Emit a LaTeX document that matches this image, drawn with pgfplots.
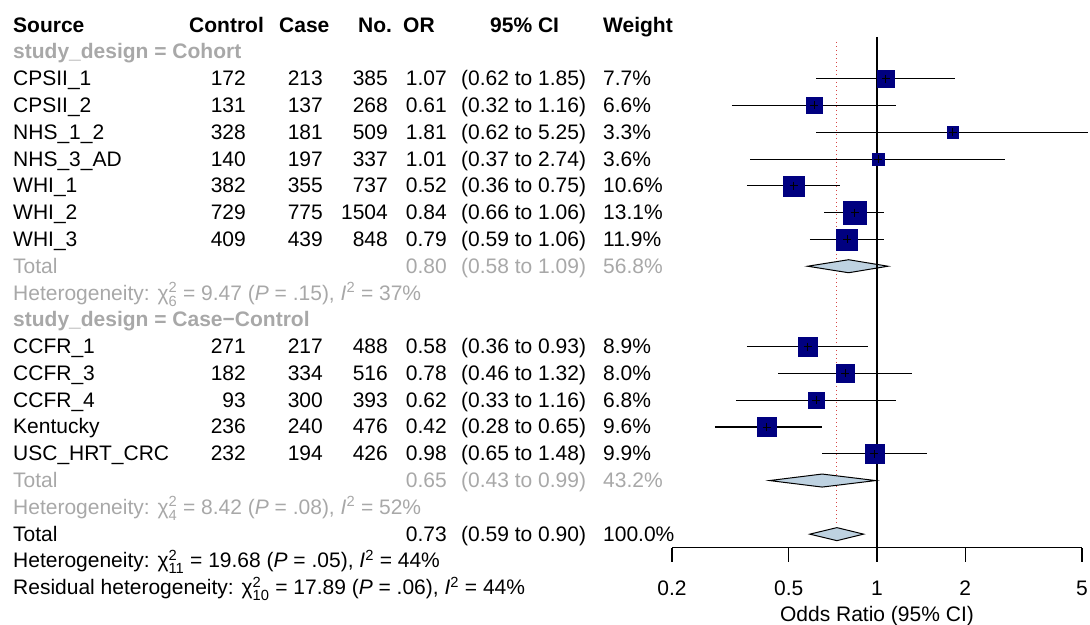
\documentclass[border=0pt]{standalone}
\usepackage{amsmath}
\usepackage{fontspec}
\setmainfont{Liberation Sans}
\usepackage{pgfplots}
\pgfplotsset{compat=1.18}
\usepackage{pgfplotstable}

\definecolor{boxblue}{RGB}{0,0,128}
\definecolor{dmfill}{RGB}{190,210,225}
\definecolor{txtgray}{RGB}{168,168,168}
\definecolor{refred}{RGB}{215,70,70}
\newcommand\fs{\fontsize{21bp}{24bp}\selectfont}
\newcommand\chisq[2]{χ$^{\text{#1}}_{\text{#2}}$}
\newcommand\Isq{\textit{I}$^{\text{2}}$}

% study rows: r (negative row), OR, lower, upper, weight
\pgfplotstableread{
r or lo hi w
-2 1.07 0.62 1.85 7.7
-3 0.61 0.32 1.16 6.6
-4 1.81 0.62 5.25 3.3
-5 1.01 0.37 2.74 3.6
-6 0.52 0.36 0.75 10.6
-7 0.84 0.66 1.06 13.1
-8 0.79 0.59 1.06 11.9
-12 0.58 0.36 0.93 8.9
-13 0.78 0.46 1.32 8.0
-14 0.62 0.33 1.16 6.8
-15 0.42 0.28 0.65 9.6
-16 0.98 0.65 1.48 9.9
}\studies

\tikzset{
  L/.style={anchor=base west, inner sep=0pt, font=\fs, yshift=-7bp},
  R/.style={anchor=base east, inner sep=0pt, font=\fs, yshift=-7bp},
  B/.style={font=\fs\bfseries},
}
\newcommand\srow[8]{%
  \node[L] at (13,#1) {#2};
  \node[R] at (246,#1) {#3};
  \node[R] at (323,#1) {#4};
  \node[R] at (388,#1) {#5};
  \node[R] at (447,#1) {#6};
  \node[L] at (461,#1) {#7};
  \node[L] at (603,#1) {#8};
}

\begin{document}
\begin{tikzpicture}
\path[use as bounding box] (0,0) rectangle (1090bp,-625bp);

\begin{axis}[
  at={(672bp,-25.1bp)}, anchor=north west,
  scale only axis, width=410bp, height=522.7bp,
  xmode=log, xmin=0.2, xmax=5, ymin=-19.51, ymax=0,
  axis x line*=bottom, axis y line=none,
  x axis line style={-, line width=1.3bp},
  xtick={0.2,0.5,1,2,5}, xticklabels={0.2,0.5,1,2,5},
  minor xtick={}, tick align=outside, major tick length=14bp,
  tick style={line width=1.3bp, black},
  xticklabel style={font=\fs, anchor=north, inner sep=0pt, yshift=-19bp},
  xlabel={Odds Ratio (95\% CI)},
  xlabel style={font=\fs, at={(axis description cs:0.5,0)}, anchor=base, yshift=-74bp, inner sep=0pt},
  clip=false, unbounded coords=jump,
]
% reference line at pooled estimate
\addplot[refred, line width=1bp, dash pattern=on 1.5bp off 2.5bp] coordinates {(0.73,-0.63) (0.73,-18.6)};
% pooled diamonds
\addplot[draw=black, fill=dmfill, line width=1bp] coordinates {(0.58,-9) (0.80,-8.757) (1.09,-9) (0.80,-9.243)} --cycle;
\addplot[draw=black, fill=dmfill, line width=1bp] coordinates {(0.43,-17) (0.65,-16.757) (0.99,-17) (0.65,-17.243)} --cycle;
\addplot[draw=black, fill=dmfill, line width=1bp] coordinates {(0.59,-19) (0.73,-18.757) (0.90,-19) (0.73,-19.243)} --cycle;
% line of no effect
\addplot[black, line width=1.3bp] coordinates {(1,-0.44) (1,-19.51)};
% confidence intervals
\addplot[black, line width=1.1bp] coordinates {
  (0.62,-2) (1.85,-2) (nan,nan) (0.32,-3) (1.16,-3) (nan,nan)
  (0.62,-4) (5.25,-4) (nan,nan) (0.37,-5) (2.74,-5) (nan,nan)
  (0.36,-6) (0.75,-6) (nan,nan) (0.66,-7) (1.06,-7) (nan,nan)
  (0.59,-8) (1.06,-8) (nan,nan) (0.36,-12) (0.93,-12) (nan,nan)
  (0.46,-13) (1.32,-13) (nan,nan) (0.33,-14) (1.16,-14) (nan,nan)
  (0.28,-15) (0.65,-15) (nan,nan) (0.65,-16) (1.48,-16)};
% weighted boxes
\addplot[scatter, only marks, mark=square*,
  scatter/use mapped color={draw=boxblue, fill=boxblue},
  visualization depends on={3.1*sqrt(\thisrow{w}) \as \msz},
  scatter/@pre marker code/.append style={/tikz/mark size=\msz, /tikz/line width=0.6bp}]
  table[x=or, y=r] {\studies};
\addplot[only marks, mark=+, mark size=4bp, black, line width=0.8bp] table[x=or, y=r] {\studies};
\end{axis}

\begin{scope}[x=1bp, y=-26.79bp, yshift=-25.1bp]
  \node[L, B] at (13,0) {Source};
  \node[L, B] at (189,0) {Control};
  \node[L, B] at (279,0) {Case};
  \node[L, B] at (358,0) {No.};
  \node[L, B] at (403,0) {OR};
  \node[L, B] at (490,0) {95\% CI};
  \node[L, B] at (603,0) {Weight};
  \node[L, B, txtgray] at (13,1) {study\_design = Cohort};
  \node[L, B, txtgray] at (13,11) {study\_design = Case−Control};
\srow{2}{CPSII\_1}{172}{213}{385}{1.07}{(0.62 to 1.85)}{7.7\%}
\srow{3}{CPSII\_2}{131}{137}{268}{0.61}{(0.32 to 1.16)}{6.6\%}
\srow{4}{NHS\_1\_2}{328}{181}{509}{1.81}{(0.62 to 5.25)}{3.3\%}
\srow{5}{NHS\_3\_AD}{140}{197}{337}{1.01}{(0.37 to 2.74)}{3.6\%}
\srow{6}{WHI\_1}{382}{355}{737}{0.52}{(0.36 to 0.75)}{10.6\%}
\srow{7}{WHI\_2}{729}{775}{1504}{0.84}{(0.66 to 1.06)}{13.1\%}
\srow{8}{WHI\_3}{409}{439}{848}{0.79}{(0.59 to 1.06)}{11.9\%}
\begin{scope}[every node/.append style={txtgray}]
\srow{9}{Total}{}{}{}{0.80}{(0.58 to 1.09)}{56.8\%}
\node[L] at (13,10) {Heterogeneity: \chisq{2}{6} = 9.47 (\textit{P} = .15), \Isq{} = 37\%};
\end{scope}
\srow{12}{CCFR\_1}{271}{217}{488}{0.58}{(0.36 to 0.93)}{8.9\%}
\srow{13}{CCFR\_3}{182}{334}{516}{0.78}{(0.46 to 1.32)}{8.0\%}
\srow{14}{CCFR\_4}{93}{300}{393}{0.62}{(0.33 to 1.16)}{6.8\%}
\srow{15}{Kentucky}{236}{240}{476}{0.42}{(0.28 to 0.65)}{9.6\%}
\srow{16}{USC\_HRT\_CRC}{232}{194}{426}{0.98}{(0.65 to 1.48)}{9.9\%}
\begin{scope}[every node/.append style={txtgray}]
\srow{17}{Total}{}{}{}{0.65}{(0.43 to 0.99)}{43.2\%}
\node[L] at (13,18) {Heterogeneity: \chisq{2}{4} = 8.42 (\textit{P} = .08), \Isq{} = 52\%};
\end{scope}
\srow{19}{Total}{}{}{}{0.73}{(0.59 to 0.90)}{100.0\%}
\node[L] at (13,20) {Heterogeneity: \chisq{2}{11} = 19.68 (\textit{P} = .05), \Isq{} = 44\%};
\node[L] at (13,21) {Residual heterogeneity: \chisq{2}{10} = 17.89 (\textit{P} = .06), \Isq{} = 44\%};
\end{scope}
\end{tikzpicture}
\end{document}
